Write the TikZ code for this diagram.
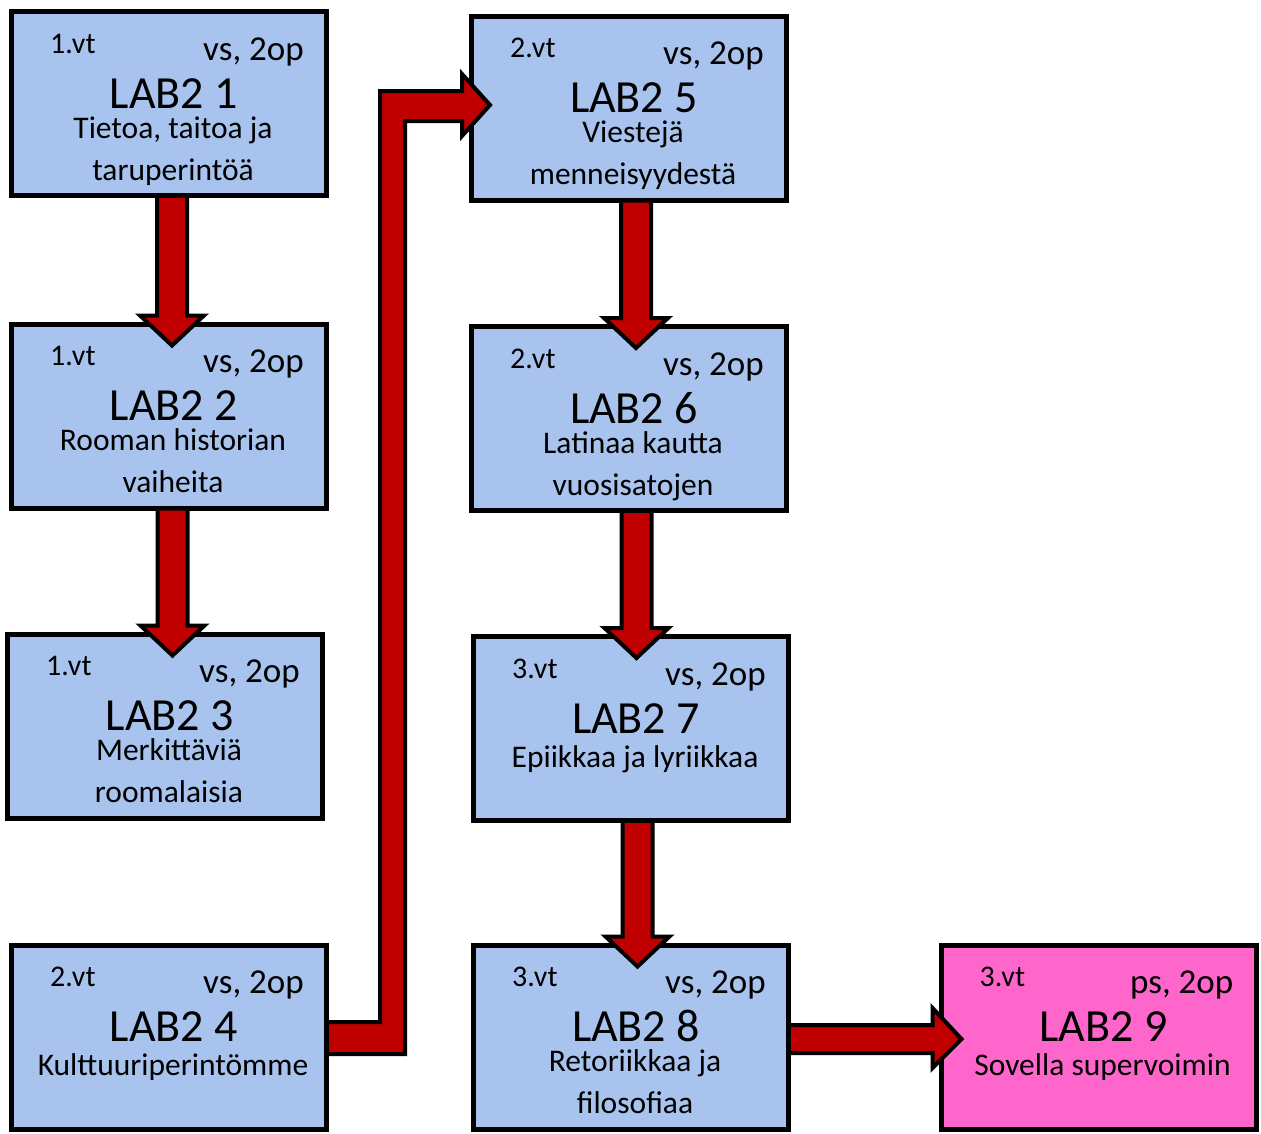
\documentclass[tikz,border=0pt]{standalone}
\usepackage{fontspec}
\setmainfont{Carlito}
\usetikzlibrary{calc,backgrounds}
\definecolor{boxblue}{RGB}{168,196,238}
\definecolor{boxpink}{RGB}{255,102,204}
\definecolor{arrowred}{RGB}{192,0,0}
\tikzset{
  labbox/.style={draw=black, line width=5pt, minimum width=315pt, minimum height=184pt, inner sep=0pt},
  vtlabel/.style={inner sep=0pt, font=\fontsize{30}{36}\selectfont, anchor=base west},
  kindlabel/.style={inner sep=0pt, font=\fontsize{35}{42}\selectfont, anchor=base east},
  titlelabel/.style={inner sep=0pt, font=\fontsize{46}{54}\selectfont, anchor=base},
  desclabel/.style={inner sep=0pt, font=\fontsize{31.5}{38}\selectfont, anchor=base},
  blockarrow/.style={fill=arrowred, draw=black, line width=4pt, line join=miter}
}
% #1 name, #2 x, #3 y, #4 fill, #5 vt, #6 kind, #7 title
\newcommand\labboxhead[7]{%
  \node[labbox, fill=#4] (#1) at (#2,#3) {};
  \node[vtlabel] (#1vt) at ($(#1.north west)+(41,44)$) {#5};
  \node[kindlabel] (#1kind) at ($(#1.north east)+(-25,51)$) {#6};
  \node[titlelabel] (#1title) at ($(#1.north)+(5,99)$) {#7};
}
% two description lines: #1 name, #2 line1, #3 line2
\newcommand\twolines[3]{%
  \node[desclabel] (#1lineA) at ($(#1.north)+(4,129)$) {#2};
  \node[desclabel] (#1lineB) at ($(#1.north)+(4,171)$) {#3};
}
% one description line
\newcommand\oneline[2]{%
  \node[desclabel] (#1lineA) at ($(#1.north)+(4,133)$) {#2};
}
% #1 from, #2 to, #3 x offset
\newcommand\downblock[3]{%
  \coordinate (#1s) at ($(#1.south)+(#3,0)$);
  \coordinate (#1t) at (#1s |- #2.north);
  \draw[blockarrow] ($(#1s)+(-15,0)$) -- ($(#1t)+(-15,-6)$) -- ($(#1t)+(-32,-6)$)
    -- ($(#1t)+(0,24)$) -- ($(#1t)+(32,-6)$) -- ($(#1t)+(15,-6)$) -- ($(#1s)+(15,0)$);
}
\begin{document}
\begin{tikzpicture}[x=1pt,y=-1pt]
\useasboundingbox (0,0) rectangle (1261,1133);
\fill[white] (0,0) rectangle (1261,1133);

\labboxhead{b1}{169}{103.5}{boxblue}{1.vt}{vs, 2op}{LAB2 1}
\twolines{b1}{Tietoa, taitoa ja}{taruperintöä}
\labboxhead{b2}{169}{416}{boxblue}{1.vt}{vs, 2op}{LAB2 2}
\twolines{b2}{Rooman historian}{vaiheita}
\labboxhead{b3}{165}{726}{boxblue}{1.vt}{vs, 2op}{LAB2 3}
\twolines{b3}{Merkittäviä}{roomalaisia}
\labboxhead{b4}{169}{1037}{boxblue}{2.vt}{vs, 2op}{LAB2 4}
\oneline{b4}{Kulttuuriperintömme}
\labboxhead{b5}{629}{108}{boxblue}{2.vt}{vs, 2op}{LAB2 5}
\twolines{b5}{Viestejä}{menneisyydestä}
\labboxhead{b6}{629}{418.5}{boxblue}{2.vt}{vs, 2op}{LAB2 6}
\twolines{b6}{Latinaa kautta}{vuosisatojen}
\labboxhead{b7}{631}{728.5}{boxblue}{3.vt}{vs, 2op}{LAB2 7}
\oneline{b7}{Epiikkaa ja lyriikkaa}
\labboxhead{b8}{631}{1037}{boxblue}{3.vt}{vs, 2op}{LAB2 8}
\twolines{b8}{Retoriikkaa ja}{filosofiaa}
\labboxhead{b9}{1098.5}{1037}{boxpink}{3.vt}{ps, 2op}{LAB2 9}
\oneline{b9}{Sovella supervoimin}

\begin{scope}[on background layer]
  \downblock{b3}{b4}{7}
\end{scope}
\downblock{b1}{b2}{3}
\downblock{b2}{b3}{3.5}
\downblock{b5}{b6}{7}
\downblock{b6}{b7}{7.5}
\downblock{b7}{b8}{6.5}

% bent arrow b4 -> b5
\draw[blockarrow] ($(b4.east)+(0,-15)$) -- ($(b4.east)+(51,-15)$)
  -- ($(b5.west)+(-89,-17)$) -- ($(b5.west)+(-7,-17)$) -- ($(b5.west)+(-7,-34)$)
  -- ($(b5.west)+(21,-3)$) -- ($(b5.west)+(-7,28)$) -- ($(b5.west)+(-7,13)$)
  -- ($(b5.west)+(-64,13)$) -- ($(b4.east)+(76,17)$) -- ($(b4.east)+(0,17)$);

% arrow b8 -> b9
\draw[blockarrow] ($(b8.east)+(0,-12)$) -- ($(b9.west)+(-6,-12)$) -- ($(b9.west)+(-6,-29)$)
  -- ($(b9.west)+(23,2)$) -- ($(b9.west)+(-6,31)$) -- ($(b9.west)+(-6,16)$) -- ($(b8.east)+(0,16)$);
\end{tikzpicture}
\end{document}
